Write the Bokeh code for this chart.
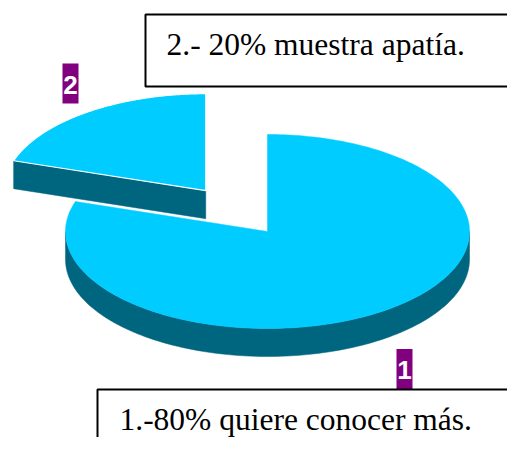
import numpy as np
from bokeh.plotting import figure
from bokeh.models import Range1d
from bokeh.core.properties import value
from bokeh.embed import file_html
from bokeh.resources import INLINE

# ---- data ----
labels = ["1", "2"]
values = [80, 20]
descriptions = ["1.-80% quiere conocer más.", "2.- 20% muestra apatía."]

# ---- styling / layout ----
TOP = "#00CCFF"
SIDE = "#006680"
LABEL_BG = "#800080"
W, H = 507, 437
cx, cy = 267.0, 231.0     # pie centre (screen px)
a, b = 202.0, 97.0        # ellipse semi-axes
depth = 28.0
explode = [0.0, 0.52]
start_angle = 90.0

label_pos = [(404, 368.5), (70, 83)]
label_box = (16, 40)
desc_boxes = [(97, 530, 389, 470), (145, 530, 14, 86)]   # left, right, top, bottom
desc_text = [(119, 418.5), (166, 44)]

p = figure(width=W, height=H, x_range=Range1d(0, W), y_range=Range1d(H, 0),
           output_backend="svg", toolbar_location=None, min_border=0,
           x_axis_location=None, y_axis_location=None)
p.grid.visible = False
p.outline_line_color = None
p.background_fill_color = "white"
p.border_fill_color = "white"


def rim(x0, y0, thetas, dz=0.0):
    t = np.radians(thetas)
    return x0 + a * np.cos(t), y0 - b * np.sin(t) + dz


total = float(sum(values))
ang = start_angle
for i, v in enumerate(values):
    hi = ang
    lo = ang - 360.0 * v / total
    ang = lo
    mid = np.radians((lo + hi) / 2)
    ox = cx + explode[i] * a * np.cos(mid)
    oy = cy - explode[i] * b * np.sin(mid)

    # outer side (front-facing part of arc)
    for k in (-1, 0, 1):
        s = max(lo, -180 + 360 * k)
        e = min(hi, 0 + 360 * k)
        if e - s > 0.01:
            th = np.linspace(s, e, 120)
            xt, yt = rim(ox, oy, th)
            xb, yb = rim(ox, oy, th[::-1], depth)
            p.patch(np.concatenate([xt, xb]), np.concatenate([yt, yb]),
                    fill_color=SIDE, line_color=SIDE, line_width=0.5)
    # radial edge faces
    for te, n in ((hi, hi + 90), (lo, lo - 90)):
        if np.sin(np.radians(n)) < -1e-3:
            rx, ry = rim(ox, oy, [te])
            p.patch([ox, rx[0], rx[0], ox], [oy, ry[0], ry[0] + depth, oy + depth],
                    fill_color=SIDE, line_color=SIDE, line_width=0.5)
    # top face
    th = np.linspace(hi, lo, 240)
    xt, yt = rim(ox, oy, th)
    p.patch(np.concatenate([[ox], xt]), np.concatenate([[oy], yt]),
            fill_color=TOP,
            line_color="white" if explode[i] > 0 else TOP,
            line_width=1.2 if explode[i] > 0 else 0.5)

# data labels
for (lx, ly), lab in zip(label_pos, labels):
    p.quad(left=lx - label_box[0] / 2, right=lx + label_box[0] / 2,
           top=ly - label_box[1] / 2, bottom=ly + label_box[1] / 2,
           fill_color=LABEL_BG, line_color=None)
    p.text(x=[lx], y=[ly + 1], text=[lab], text_color="white",
           text_font=value("Liberation Sans"), text_font_style="bold",
           text_font_size="26px", text_align="center", text_baseline="middle")

# description boxes
for (l, r, t, bt), (tx, ty), txt in zip(desc_boxes, desc_text, descriptions):
    p.quad(left=l, right=r, top=t, bottom=bt, fill_color="white",
           line_color="black", line_width=2)
    p.text(x=[tx], y=[ty], text=[txt], text_color="black",
           text_font=value("Liberation Serif"), text_font_size="31.5px",
           text_align="left", text_baseline="alphabetic")

open("out.html", "w").write(file_html(p, INLINE))
